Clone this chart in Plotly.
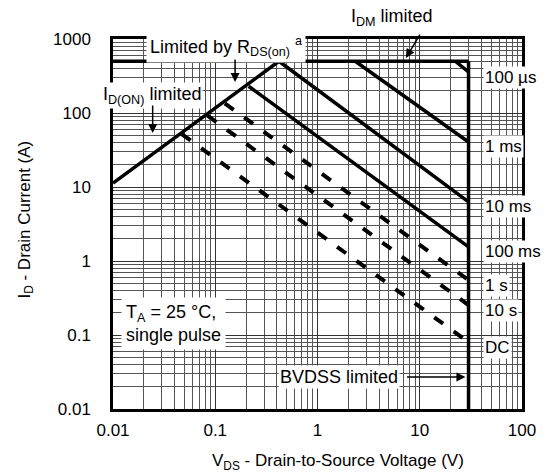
import numpy as np
import plotly.graph_objects as go

# ---------------- data ----------------
# R_DS(on) limit line
rds_v = [0.01, 0.42]
rds_i = [11.3, 500]
# I_DM limit (horizontal) and BVDSS limit (vertical)
idm_v = [0.01, 30]
idm_i = [500, 500]
bv_v = [30, 30]
bv_i = [0.01, 500]

# pulse-width lines
pulse_labels = ["100 µs", "1 ms", "10 ms", "100 ms", "1 s", "10 s", "DC"]
pulse_v_start = [22.4, 2.34, 0.42, 0.212, 0.124, 0.084, 0.047]
pulse_i_start = [500, 500, 500, 230, 135, 92, 52]
pulse_v_end = [30, 30, 30, 30, 30, 30, 30]
pulse_i_end = [358, 40.6, 6.3, 1.55, 0.55, 0.254, 0.080]
pulse_dashed = [False, False, False, False, True, True, True]

x_ticks = [0.01, 0.1, 1, 10, 100]
x_ticktext = ["0.01", "0.1", "1", "10", "100"]
y_ticks = [0.01, 0.1, 1, 10, 100, 1000]
y_ticktext = ["0.01", "0.1", "1", "10", "100", "1000"]

FONT = "Liberation Sans, Arial, sans-serif"
FS = 17

fig = go.Figure()

LW = 3.5
for vx, iy in [(rds_v, rds_i), (idm_v, idm_i), (bv_v, bv_i)]:
    fig.add_trace(go.Scatter(x=vx, y=iy, mode="lines",
                             line=dict(color="black", width=LW),
                             showlegend=False, hoverinfo="skip"))

for lab, v0, i0, v1, i1, d in zip(pulse_labels, pulse_v_start, pulse_i_start,
                                  pulse_v_end, pulse_i_end, pulse_dashed):
    fig.add_trace(go.Scatter(x=[v0, v1], y=[i0, i1], mode="lines",
                             line=dict(color="black", width=4 if d else LW,
                                       dash="11px,13px" if d else "solid"),
                             showlegend=False, hoverinfo="skip", name=lab))

L = np.log10
ann = []
# right-side pulse labels
for lab, v1, i1 in zip(pulse_labels, pulse_v_end, pulse_i_end):
    ann.append(dict(x=L(v1), y=L(i1), xref="x", yref="y", text=lab,
                    showarrow=False, xanchor="left", yanchor="middle",
                    xshift=14, yshift=-5, bgcolor="white",
                    font=dict(size=FS, color="black", family=FONT)))

# text labels
ann.append(dict(x=-0.893, y=2.905, xref="x", yref="y",
                text="Limited by R<sub>DS(on)</sub> <sup>a</sup>",
                showarrow=False, bgcolor="white", borderpad=3,
                xanchor="center", yanchor="middle",
                font=dict(size=FS + 1, color="black", family=FONT)))
ann.append(dict(x=0.73, y=1.057, xref="x", yref="paper",
                text="I<sub>DM</sub> limited", showarrow=False,
                xanchor="center", yanchor="middle",
                font=dict(size=FS + 1, color="black", family=FONT)))
ann.append(dict(x=-1.62, y=2.243, xref="x", yref="y",
                text="I<sub>D(ON)</sub> limited", showarrow=False,
                bgcolor="white", xanchor="center", yanchor="middle",
                font=dict(size=FS + 1, color="black", family=FONT)))
ann.append(dict(x=-1.408, y=-0.851, xref="x", yref="y",
                text="T<sub>A</sub> = 25 °C,<br>single pulse", align="left",
                showarrow=False, bgcolor="white", borderpad=4,
                xanchor="center", yanchor="middle",
                font=dict(size=FS + 1, color="black", family=FONT)))
ann.append(dict(x=0.214, y=-1.568, xref="x", yref="y",
                text="BVDSS limited", showarrow=False, bgcolor="white",
                xanchor="center", yanchor="middle",
                font=dict(size=FS + 1, color="black", family=FONT)))

# arrows
arrow = dict(xref="x", yref="y", text="", showarrow=True, arrowhead=2,
             arrowsize=1.2, arrowwidth=1.5, arrowcolor="black", standoff=0)
ann.append(dict(arrow, x=-0.806, y=2.419, ax=0, ay=-24))
ann.append(dict(arrow, x=0.864, y=2.743, ax=15, ay=-25))
ann.append(dict(arrow, x=-1.612, y=1.730, ax=0, ay=-29))
ann.append(dict(arrow, x=1.447, y=-1.568, ax=-60, ay=0))

# axis titles
ann.append(dict(x=0.551, y=-0.143, xref="paper", yref="paper",
                xanchor="center", yanchor="middle",
                text="V<sub>DS</sub> - Drain-to-Source Voltage (V)",
                showarrow=False, font=dict(size=FS, color="black", family=FONT)))
ann.append(dict(x=-0.2136, y=0.511, xref="paper", yref="paper",
                xanchor="center", yanchor="middle",
                text="I<sub>D</sub> - Drain Current (A)", textangle=-90,
                showarrow=False, font=dict(size=FS, color="black", family=FONT)))

minor_vals = [m * 10.0 ** e for e in range(-2, 3) for m in range(2, 10)]

axis_common = dict(type="log", showline=True, mirror=True, linewidth=2.5,
                   linecolor="black", showgrid=True, gridcolor="#333333",
                   gridwidth=1, zeroline=False, ticks="",
                   tickfont=dict(size=FS, color="black", family=FONT))

fig.update_layout(
    width=548, height=474,
    margin=dict(l=113, r=23, t=39, b=65),
    paper_bgcolor="white", plot_bgcolor="white",
    xaxis=dict(axis_common, range=[-2, 2], tickmode="array",
               tickvals=x_ticks, ticktext=x_ticktext, ticklabelstandoff=4,
               minor=dict(tickmode="array", tickvals=minor_vals, showgrid=True,
                          gridcolor="#555555", gridwidth=0.8, ticks="")),
    yaxis=dict(axis_common, range=[-2, 3], tickmode="array",
               tickvals=y_ticks, ticktext=y_ticktext, ticklabelstandoff=16,
               minor=dict(tickmode="array", tickvals=minor_vals, showgrid=True,
                          gridcolor="#555555", gridwidth=0.8, ticks="")),
    annotations=ann,
)

fig.write_html("out.html")
